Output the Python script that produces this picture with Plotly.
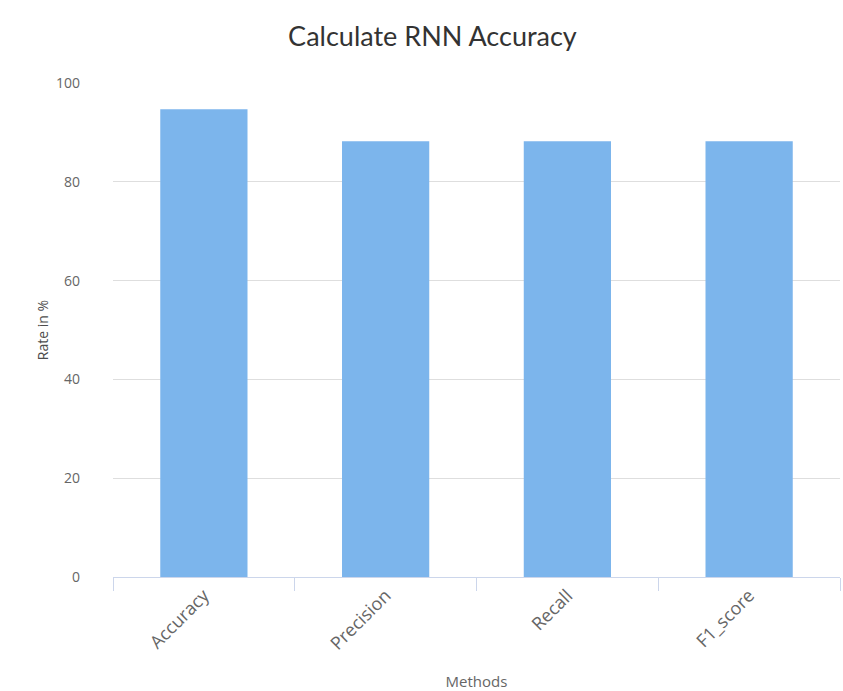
import plotly.graph_objects as go

# Evaluation metrics of the RNN model (percent)
methods = ["Accuracy", "Precision", "Recall", "F1_score"]
rates = [94.7, 88.2, 88.2, 88.2]
y_ticks = [0, 20, 40, 60, 80, 100]

fig = go.Figure(
    go.Bar(
        x=methods,
        y=rates,
        marker=dict(color="#7cb5ec", line=dict(width=0)),
        hoverinfo="x+y",
    )
)

fig.update_layout(
    width=843,
    height=691,
    paper_bgcolor="white",
    plot_bgcolor="white",
    margin=dict(l=113, r=3, t=83, b=114),
    bargap=0.52,
    showlegend=False,
    font=dict(family="Open Sans, sans-serif", color="#666666"),
    title=dict(
        text="Calculate RNN Accuracy",
        x=0.513,
        xanchor="center",
        y=0.947,
        yanchor="middle",
        font=dict(family="Lato, sans-serif", size=27, color="#333333"),
    ),
)

fig.update_xaxes(
    type="category",
    tickson="boundaries",
    ticks="outside",
    ticklen=13,
    tickcolor="#ccd6eb",
    tickwidth=1,
    showline=True,
    linecolor="#ccd6eb",
    linewidth=1,
    showgrid=False,
    tickangle=-45,
    tickfont=dict(size=18, color="#666666"),
    title=dict(text="Methods", font=dict(size=15, color="#666666"), standoff=22),
)

fig.update_yaxes(
    range=[0, 100],
    tickvals=y_ticks,
    showgrid=True,
    gridcolor="#dedede",
    gridwidth=1,
    zeroline=False,
    showline=False,
    ticks="",
    ticklabelstandoff=32,
    tickfont=dict(size=14, color="#666666"),
    title=dict(text="Rate in %", font=dict(size=14, color="#4d4d4d"), standoff=4),
)

fig.write_html("out.html")
